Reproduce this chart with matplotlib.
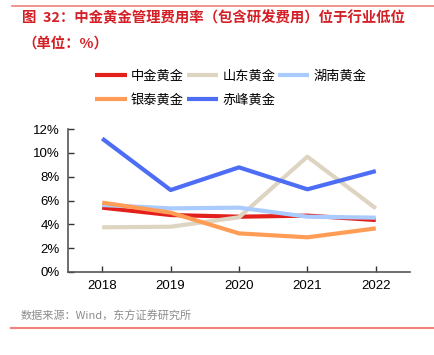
import matplotlib
matplotlib.use("Agg")
import matplotlib.pyplot as plt
from matplotlib.lines import Line2D

plt.rcParams['font.family'] = ['Noto Sans CJK SC', 'DejaVu Sans']

years = ["2018", "2019", "2020", "2021", "2022"]
series_names = ["中金黄金", "山东黄金", "湖南黄金", "银泰黄金", "赤峰黄金"]
zhongjin = [5.4, 4.78, 4.64, 4.73, 4.36]
shandong = [3.75, 3.8, 4.59, 9.68, 5.34]
hunan = [5.62, 5.34, 5.4, 4.64, 4.56]
yintai = [5.82, 4.98, 3.24, 2.91, 3.66]
chifeng = [11.2, 6.88, 8.78, 6.94, 8.47]
colors = ["#e3201b", "#ddd5c1", "#a9cbff", "#ff9d57", "#4d6df5"]
yticks = [0, 2, 4, 6, 8, 10, 12]

data = [zhongjin, shandong, hunan, yintai, chifeng]

fig = plt.figure(figsize=(4.35, 3.55), dpi=100)
ax = fig.add_axes([68/435, 1-272/355, (410-68)/435, (272-129)/355])

x = list(range(len(years)))
handles = []
for name, vals, c in zip(series_names, data, colors):
    h, = ax.plot(x, vals, color=c, lw=3.0, solid_capstyle='butt', label=name)
    handles.append(h)

ax.set_xlim(-0.5, 4.5)
ax.set_ylim(0, 12)
ax.set_xticks(x)
ax.set_xticklabels(years, fontfamily='Liberation Sans', fontsize=9.5)
ax.set_yticks(yticks)
ax.set_yticklabels([f"{v}%" for v in yticks], fontfamily='Liberation Sans', fontsize=9.5)
for s in ['top', 'right']:
    ax.spines[s].set_visible(False)
for s in ['left', 'bottom']:
    ax.spines[s].set_color('#555555')
    ax.spines[s].set_linewidth(1.2)
ax.tick_params(axis='both', direction='in', length=4, color='#333333', width=1, pad=6)

# legend: column-major order so rows read 中金/山东/湖南, 银泰/赤峰
order = [0, 3, 1, 4, 2]
leg = fig.legend(handles=[handles[i] for i in order],
                 labels=[series_names[i] for i in order], ncol=3, loc='upper left',
                 bbox_to_anchor=(90/435, 1-64/355), frameon=False, fontsize=9.5,
                 handlelength=2.4, handletextpad=0.3, columnspacing=0.2,
                 labelspacing=0.85, borderaxespad=0)

# title
fig.text(22/435, 1-18/355, "图  32：中金黄金管理费用率（包含研发费用）位于行业低位",
         color='#d41f26', fontsize=10.4, fontweight='bold', va='center', ha='left')
fig.text(22/435, 1-44/355, "（单位：%）",
         color='#d41f26', fontsize=10.4, fontweight='bold', va='center', ha='left')
fig.add_artist(Line2D([12/435, 1], [1-6/355, 1-6/355], color='#f0827a', lw=1.2,
                      transform=fig.transFigure))
fig.add_artist(Line2D([11/435, 1], [1-328/355, 1-328/355], color='#f0827a', lw=1.5,
                      transform=fig.transFigure))
fig.text(21/435, 1-316/355, "数据来源：Wind，东方证券研究所", color='#8c8c8c',
         fontsize=8, va='center', ha='left')

fig.savefig("out.png", dpi=100)
